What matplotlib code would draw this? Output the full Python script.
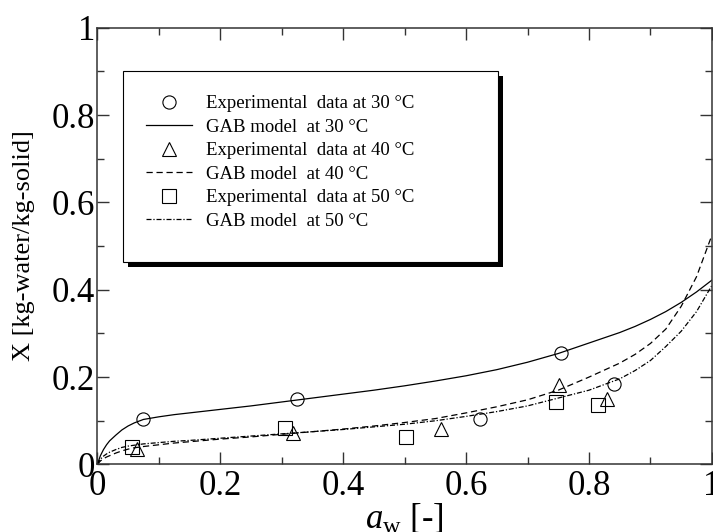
import matplotlib
matplotlib.use("Agg")
import matplotlib.pyplot as plt
import matplotlib.patches as mpatches
from matplotlib.ticker import MultipleLocator, FuncFormatter

plt.rcParams["font.family"] = ["Liberation Serif", "DejaVu Serif"]
plt.rcParams["mathtext.fontset"] = "custom"
plt.rcParams["mathtext.rm"] = "Liberation Serif"
plt.rcParams["mathtext.it"] = "Liberation Serif:italic"

# experimental points
aw_30 = [0.074, 0.325, 0.622, 0.755, 0.840]
x_30 = [0.105, 0.149, 0.105, 0.255, 0.185]
aw_40 = [0.064, 0.318, 0.559, 0.751, 0.830]
x_40 = [0.035, 0.072, 0.080, 0.181, 0.150]
aw_50 = [0.056, 0.306, 0.503, 0.746, 0.815]
x_50 = [0.039, 0.084, 0.062, 0.143, 0.136]

# GAB model curves, sampled from the figure
aw_model = [0, 0.005, 0.01, 0.015, 0.02, 0.03, 0.04, 0.05, 0.06, 0.075, 0.1,
            0.125, 0.15, 0.2, 0.25, 0.3, 0.35, 0.4, 0.45, 0.5, 0.55, 0.6, 0.65,
            0.7, 0.75, 0.8, 0.85, 0.875, 0.9, 0.925, 0.95, 0.975, 1.0]
gab_30 = [0, 0.020, 0.034, 0.045, 0.054, 0.067, 0.079, 0.088, 0.095, 0.103,
          0.109, 0.114, 0.118, 0.126, 0.134, 0.143, 0.152, 0.161, 0.170, 0.180,
          0.191, 0.203, 0.217, 0.234, 0.254, 0.278, 0.302, 0.316, 0.332, 0.350,
          0.371, 0.395, 0.422]
gab_40 = [0, 0.008, 0.013, 0.017, 0.020, 0.026, 0.031, 0.035, 0.038, 0.041,
          0.045, 0.049, 0.052, 0.058, 0.063, 0.069, 0.075, 0.081, 0.088, 0.096,
          0.105, 0.118, 0.132, 0.148, 0.170, 0.200, 0.232, 0.252, 0.277, 0.310,
          0.362, 0.430, 0.525]
gab_50 = [0, 0.012, 0.019, 0.024, 0.028, 0.034, 0.039, 0.042, 0.044, 0.047,
          0.050, 0.053, 0.055, 0.060, 0.065, 0.070, 0.075, 0.080, 0.086, 0.092,
          0.100, 0.110, 0.121, 0.134, 0.152, 0.170, 0.196, 0.215, 0.238, 0.270,
          0.305, 0.350, 0.410]

labels = [
    "Experimental  data at 30 °C",
    "GAB model  at 30 °C",
    "Experimental  data at 40 °C",
    "GAB model  at 40 °C",
    "Experimental  data at 50 °C",
    "GAB model  at 50 °C",
]

fig = plt.figure(figsize=(7.13, 5.32), dpi=100)
ax = fig.add_axes([0.1365, 0.127, 0.862, 0.821])

mk = dict(linestyle="none", mfc="none", mec="black", mew=0.8, ms=9.5, clip_on=False)
lw = 0.9

h1, = ax.plot(aw_30, x_30, marker="o", **mk)
h2, = ax.plot(aw_model, gab_30, color="black", lw=lw)
h3, = ax.plot(aw_40, x_40, marker="^", **mk)
h4, = ax.plot(aw_model, gab_40, color="black", lw=lw, dashes=(5, 3))
h5, = ax.plot(aw_50, x_50, marker="s", **mk)
h6, = ax.plot(aw_model, gab_50, color="black", lw=lw, dashes=(4, 1.5, 1, 1.5))

ax.set_xlim(0, 1)
ax.set_ylim(0, 1)
ax.xaxis.set_major_locator(MultipleLocator(0.2))
ax.xaxis.set_minor_locator(MultipleLocator(0.1))
ax.yaxis.set_major_locator(MultipleLocator(0.2))
ax.yaxis.set_minor_locator(MultipleLocator(0.1))
fmt = FuncFormatter(lambda v, p: "%g" % round(v, 3))
ax.xaxis.set_major_formatter(fmt)
ax.yaxis.set_major_formatter(fmt)

ax.tick_params(which="both", direction="in", top=True, right=True,
               width=1, color="#333333")
ax.tick_params(which="major", length=8.6, labelsize=25)
ax.tick_params(axis="x", which="major", pad=4)
ax.tick_params(axis="y", which="major", pad=1.5)
ax.tick_params(which="minor", length=5)
for s in ax.spines.values():
    s.set_color("#333333")
    s.set_linewidth(1.1)

ax.set_xlabel(r"$a_{\mathrm{w}}$ [-]", fontsize=25, labelpad=0)
ax.set_ylabel("X [kg-water/kg-solid]", fontsize=19, labelpad=12)

# legend frame with a hard black shadow
x0, y0, w, h = 0.0415, 0.4635, 0.6105, 0.4365
ax.add_patch(mpatches.Rectangle((x0 + 0.0081, y0 - 0.0115), w, h, transform=ax.transAxes,
                                facecolor="black", edgecolor="none", zorder=3))
ax.add_patch(mpatches.Rectangle((x0, y0), w, h, transform=ax.transAxes,
                                facecolor="white", edgecolor="black", lw=0.8, zorder=4))
leg = ax.legend([h1, h2, h3, h4, h5, h6], labels, loc="upper left",
                bbox_to_anchor=(0.079, 0.845), frameon=False, fontsize=13.5,
                labelspacing=0.34, handlelength=2.45, handletextpad=0.75,
                borderpad=0, borderaxespad=0)
leg.set_zorder(5)

fig.savefig("out.png", dpi=100)
